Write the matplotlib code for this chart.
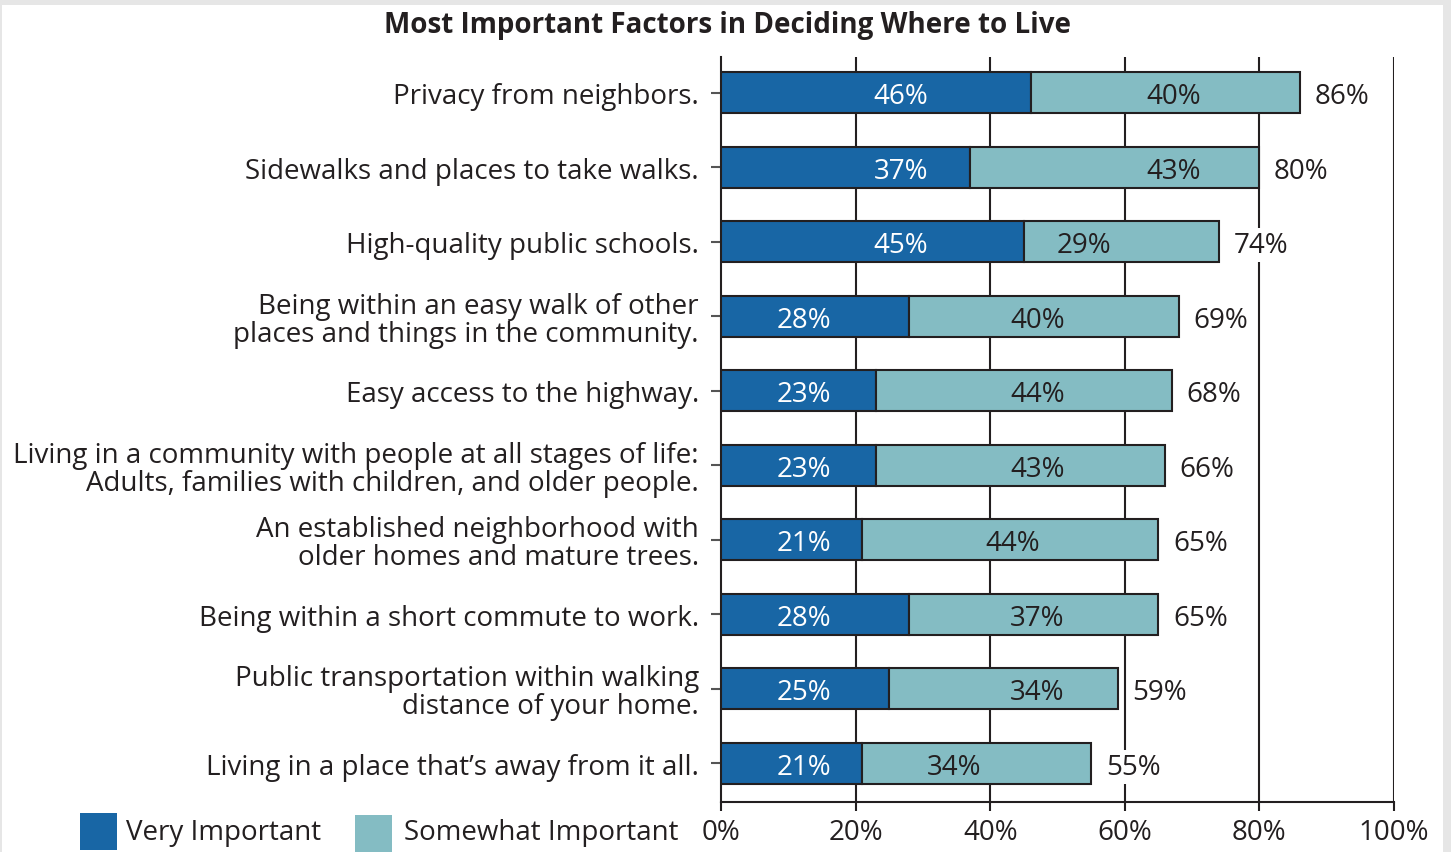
import matplotlib
matplotlib.use("Agg")
import matplotlib.pyplot as plt
from matplotlib.patches import Rectangle

plt.rcParams["font.family"] = ["Open Sans", "DejaVu Sans"]

DARK = "#1866a5"
LIGHT = "#84bcc3"
INK = "#231f20"

factors = [
    "Privacy from neighbors.",
    "Sidewalks and places to take walks.",
    "High-quality public schools.",
    "Being within an easy walk of other\nplaces and things in the community.",
    "Easy access to the highway.",
    "Living in a community with people at all stages of life:\nAdults, families with children, and older people.",
    "An established neighborhood with\nolder homes and mature trees.",
    "Being within a short commute to work.",
    "Public transportation within walking\ndistance of your home.",
    "Living in a place that\u2019s away from it all.",
]
very_important = [46, 37, 45, 28, 23, 23, 21, 28, 25, 21]
somewhat_important = [40, 43, 29, 40, 44, 43, 44, 37, 34, 34]
totals = [86, 80, 74, 69, 68, 66, 65, 65, 59, 55]
x_ticks = [0, 20, 40, 60, 80, 100]

# where the in-bar labels sit (x, in percent) in the original layout
dark_label_x = [26.7, 26.7, 26.7, 12.3, 12.3, 12.3, 12.3, 12.3, 12.3, 12.3]
light_label_x = [67.2, 67.2, 53.9, 47, 47, 47, 43.4, 47, 47, 34.6]

FS = 20
W, H = 1451, 853
fig = plt.figure(figsize=(W / 100, H / 100), dpi=100, facecolor="#e6e6e6")
fig.add_artist(Rectangle((2 / W, 0), (1443 - 2) / W, (H - 6) / H,
                         transform=fig.transFigure, facecolor="white",
                         edgecolor="none", zorder=-10))

ax = fig.add_axes([721 / W, 1 - 803 / H, (1394 - 721) / W, (803 - 58) / H])
ax.set_facecolor("none")

y = list(range(len(factors)))
ax.barh(y, very_important, height=0.55, color=DARK, edgecolor=INK,
        linewidth=1.5, zorder=3)
ax.barh(y, somewhat_important, left=very_important, height=0.55,
        color=LIGHT, edgecolor=INK, linewidth=1.5, zorder=3)

for i in y:
    ax.text(dark_label_x[i], i, f"{very_important[i]}%", color="white",
            ha="center", va="center_baseline", fontsize=FS, zorder=4)
    ax.text(light_label_x[i], i, f"{somewhat_important[i]}%", color=INK,
            ha="center", va="center_baseline", fontsize=FS, zorder=4)
    bar_end = very_important[i] + somewhat_important[i]
    ax.annotate(f"{totals[i]}%", (bar_end, i), xytext=(10.5, 0),
                textcoords="offset points", ha="left", va="center_baseline",
                fontsize=FS, color=INK, zorder=4,
                bbox=dict(boxstyle="square,pad=0.1", fc="white", ec="none"))

for xv in x_ticks[1:]:
    ax.axvline(xv, color=INK, linewidth=1.5, zorder=1)

ax.set_xlim(0, 100)
ax.set_ylim(9.52, -0.48)
ax.set_xticks(x_ticks)
ax.set_xticklabels([f"{v}%" for v in x_ticks])
ax.set_yticks(y)
ax.set_yticklabels(factors, linespacing=1.0, ha="right", multialignment="right")

for side in ["top", "right"]:
    ax.spines[side].set_visible(False)
for side in ["left", "bottom"]:
    ax.spines[side].set_color(INK)
    ax.spines[side].set_linewidth(1.5)

ax.tick_params(axis="y", length=7, width=1.5, color="#555555", pad=9,
               labelsize=FS, labelcolor=INK)
ax.tick_params(axis="x", length=6.5, width=1.5, color=INK, pad=5,
               labelsize=FS, labelcolor=INK)

fig.text(728 / W, 1 - 25 / H, "Most Important Factors in Deciding Where to Live",
         ha="center", va="center", fontsize=20, fontweight="bold", color=INK)

# legend drawn by hand along the bottom edge
fig.add_artist(Rectangle((80 / W, 1 - 851 / H), 37 / W, 37 / H,
                         transform=fig.transFigure, facecolor=DARK,
                         edgecolor="none"))
fig.text(126 / W, 1 - 833 / H, "Very Important", ha="left", va="center",
         fontsize=FS, color=INK)
fig.add_artist(Rectangle((355 / W, 0), 37 / W, 37 / H,
                         transform=fig.transFigure, facecolor=LIGHT,
                         edgecolor="none"))
fig.text(404 / W, 1 - 833 / H, "Somewhat Important", ha="left", va="center",
         fontsize=FS, color=INK)

fig.savefig("out.png", dpi=100, facecolor=fig.get_facecolor())
